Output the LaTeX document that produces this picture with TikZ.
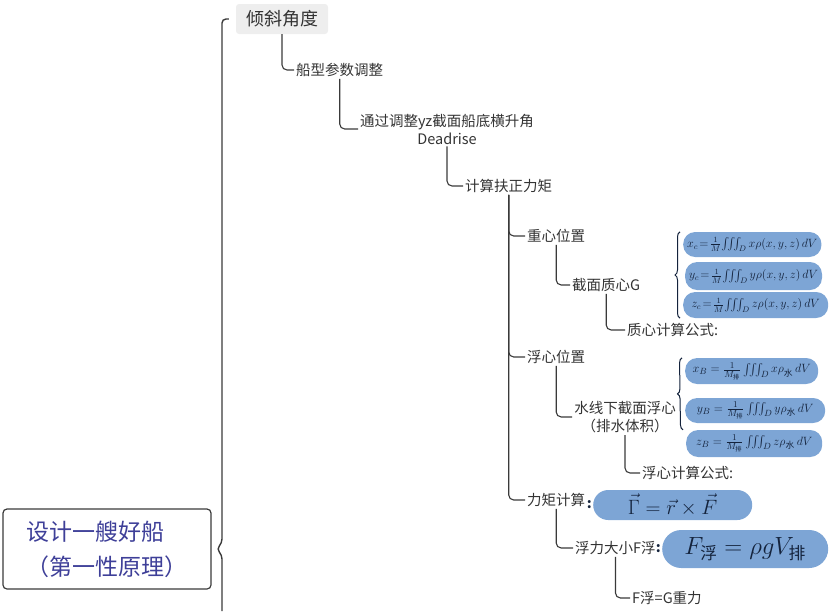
\documentclass[tikz,border=0pt]{standalone}
\usepackage{amsmath}
\usepackage[no-math]{fontspec}
\setmainfont{Noto Sans CJK SC}
\usepackage{tikz}
\usetikzlibrary{positioning,decorations.pathreplacing}
\definecolor{linegray}{HTML}{3A3A3A}
\definecolor{textgray}{HTML}{333333}
\definecolor{pillblue}{HTML}{7DA5D5}
\definecolor{inknavy}{HTML}{14233C}
\definecolor{rootblue}{HTML}{3E3F98}
\definecolor{tagfill}{HTML}{EEEEEE}

\begin{document}
\begin{tikzpicture}[x=1pt, y=-1pt, item/.style={text=textgray, font=\fontsize{14.5}{18}\selectfont, inner sep=2pt, anchor=west}, link/.style={draw=linegray, line width=1.1pt, rounded corners=5pt}, pill/.style={fill=pillblue, rounded corners=12pt, text=inknavy, inner xsep=4pt, inner ysep=0pt, font=\fontsize{11.5}{12}\selectfont}, brace/.style={decorate, decoration={brace, amplitude=5pt}, draw=inknavy, line width=1pt}]
\useasboundingbox (0,0) rectangle (830,611);

% root and first branch
\node[draw=linegray, line width=1.2pt, rounded corners=4pt, minimum width=208pt, minimum height=80pt, align=left, text=rootblue, font=\fontsize{23}{35}\selectfont] (root) at (107,549) {设计一艘好船\\（第一性原理）};
\node[fill=tagfill, rounded corners=3pt, minimum width=92pt, minimum height=30pt, text=textgray, font=\fontsize{18}{18}\selectfont, inner sep=0pt] (tilt) at (282,19) {倾斜角度};
\coordinate (spine) at (222,549);
\coordinate (bbot) at (222,611);
\draw[draw=linegray, line width=1.4pt, rounded corners=4pt] ([xshift=-7pt]tilt.west) -| ([yshift=6pt]spine) -- ([xshift=5pt]root.east) -- ([yshift=-6pt]spine) -- (bbot);

\node[item] (hull) at (294,70) {船型参数调整};
\node[item, anchor=center, align=center] (dead) at (447,129) {通过调整yz截面船底横升角\\Deadrise};
\node[item] (torque) at (463,186) {计算扶正力矩};

\draw[link] (tilt.south) |- (hull.west);
\draw[link] (hull.south) |- (dead.west);
\draw[link] (dead.south) |- (torque.west);

% centre of gravity
\node[item] (cg) at (525,236) {重心位置};
\node[item] (sec) at (570,285) {截面质心G};
\node[item] (cgf) at (625,330) {质心计算公式:};
\draw[link] (torque.south) |- (cg.west);
\draw[link] (cg.south) |- (sec.west);
\draw[link] (sec.south) |- (cgf.west);

\node[pill, anchor=west, minimum width=132pt, minimum height=25pt] (xc) at (683,244.5) {$x_c\!=\!\frac{1}{M}\!\iiint_D x\rho(x,y,z)\,dV$};
\node[pill, anchor=west, minimum width=133pt, minimum height=28pt] (yc) at (685,276) {$y_c\!=\!\frac{1}{M}\!\iiint_D y\rho(x,y,z)\,dV$};
\node[pill, anchor=west, minimum width=145pt, minimum height=26pt] (zc) at (683,305) {$z_c\!=\!\frac{1}{M}\!\iiint_D z\rho(x,y,z)\,dV$};
\draw[brace] ([xshift=-3pt]zc.south west) -- ([xshift=-3pt]xc.north west);

% centre of buoyancy
\node[item] (cb) at (525,357) {浮心位置};
\node[item, anchor=center, align=center] (wl) at (625,417) {水线下截面浮心\\（排水体积）};
\node[item] (cbf) at (640,473) {浮心计算公式:};
\draw[link] (torque.south) |- (cb.west);
\draw[link] (cb.south) |- (wl.west);
\draw[link] (wl.south) |- (cbf.west);

\node[pill, anchor=west, minimum width=133pt, minimum height=26pt, font=\fontsize{12.5}{13}\selectfont] (xb) at (685,371) {$x_B=\frac{1}{M_{\text{排}}}\iiint_D x\rho_{\text{水}}\,dV$};
\node[pill, anchor=west, minimum width=140pt, minimum height=25pt, font=\fontsize{12.5}{13}\selectfont] (yb) at (685,410.5) {$y_B=\frac{1}{M_{\text{排}}}\iiint_D y\rho_{\text{水}}\,dV$};
\node[pill, anchor=west, minimum width=136pt, minimum height=27pt, font=\fontsize{12.5}{13}\selectfont] (zb) at (686,443.5) {$z_B=\frac{1}{M_{\text{排}}}\iiint_D z\rho_{\text{水}}\,dV$};
\draw[brace] ([xshift=-3pt]zb.north west) -- ([xshift=-3pt]xb.north west);

% moment
\node[item] (mom) at (525,500) {力矩计算};
\node[pill, anchor=west, minimum width=159pt, minimum height=30pt, rounded corners=15pt, font=\fontsize{20}{20}\selectfont] (gam) at (593,505) {$\vec{\Gamma}=\vec{r}\times\vec{F}$};
\node[text=inknavy, font=\bfseries\fontsize{14}{14}\selectfont, inner sep=0pt, left=1pt of gam] (c1) {:};
\draw[link] (torque.south) |- (mom.west);

\node[item] (buoy) at (573,548) {浮力大小F浮};
\node[pill, anchor=west, minimum width=166pt, minimum height=38pt, rounded corners=19pt, font=\fontsize{24}{24}\selectfont] (fb) at (662,549) {$F_{\text{浮}}=\rho g V_{\text{排}}$};
\node[text=inknavy, font=\bfseries\fontsize{14}{14}\selectfont, inner sep=0pt, left=1pt of fb] (c2) {:};
\node[item] (eq) at (630,598) {F浮=G重力};
\draw[link] (mom.south) |- (buoy.west);
\draw[link] (buoy.south) |- (eq.west);
\end{tikzpicture}
\end{document}
